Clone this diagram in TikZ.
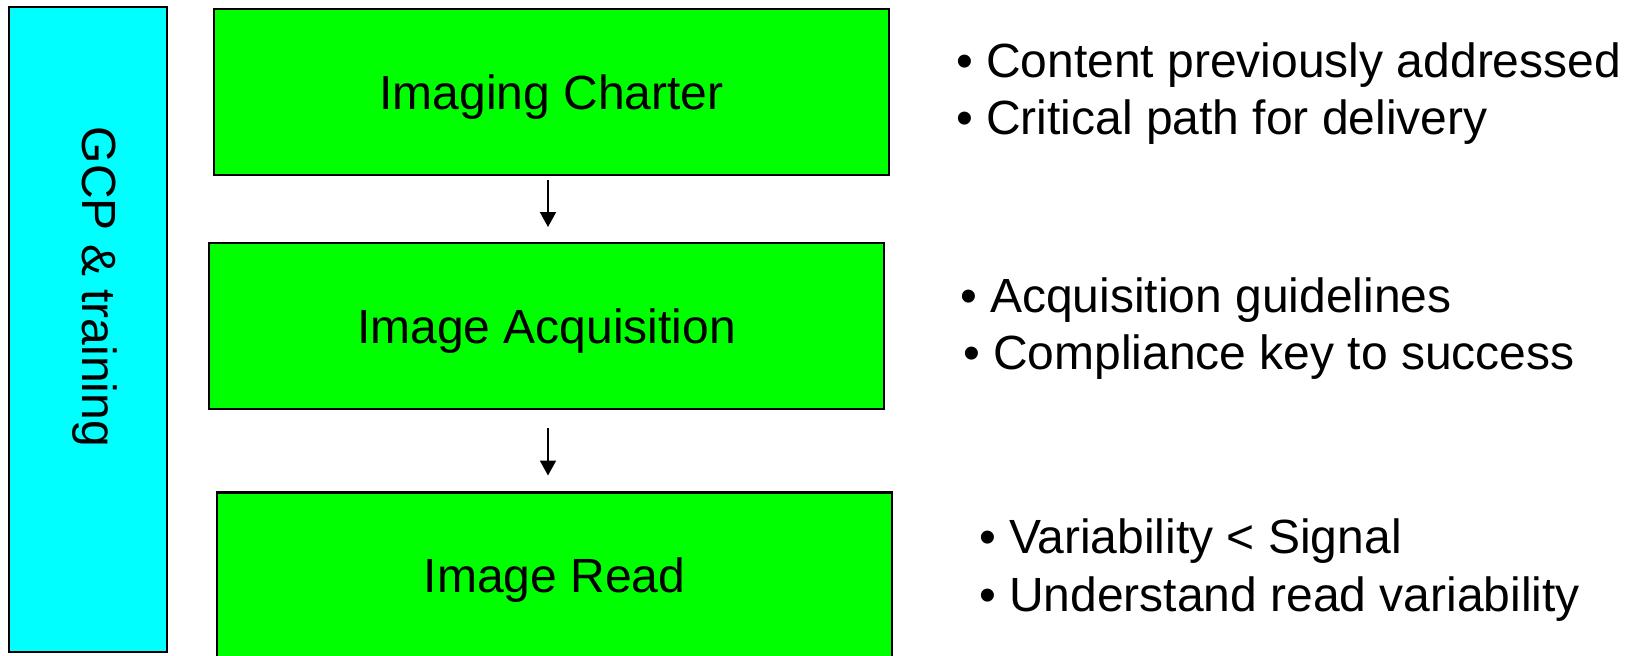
\documentclass[tikz,border=0pt]{standalone}
\usepackage{fontspec}
\setmainfont{Liberation Sans}
\usetikzlibrary{arrows.meta}
\definecolor{gcpcyan}{HTML}{00FFFF}
\definecolor{stepgreen}{HTML}{00FF00}
\begin{document}
\begin{tikzpicture}[x=1pt,y=-1pt,
  every node/.style={font=\fontsize{48pt}{58pt}\selectfont, inner sep=0pt, outer sep=0pt},
  framebox/.style={draw=black, line width=2.5pt},
  stagebox/.style={framebox, fill=stepgreen, minimum width=675pt, minimum height=166pt,
                   text height=34.4pt, text depth=0pt},
  bullet/.style={anchor=base west},
  flow/.style={draw=black, line width=2pt, -{Triangle[width=16pt,length=15pt]}}]
  \useasboundingbox (0,0) rectangle (1631,656);
  \clip (0,0) rectangle (1631,656);

  % side bar
  \node[framebox, fill=gcpcyan, minimum width=158pt, minimum height=645pt] (gcp) at (88,329.5) {};
  \node[rotate=-90, anchor=base] (gcptext) at (82,287) {GCP \& training};

  % process stages
  \node[stagebox] (charter) at (551.5,92) {Imaging Charter};
  \node[stagebox] (acq) at (546.5,326) {Image Acquisition};
  \node[stagebox] (read) at (554.5,575.5) {Image Read};

  % arrows between stages
  \coordinate (ax) at (548,0);
  \draw[flow, shorten <=5pt, shorten >=16pt] (charter.south -| ax) -- (acq.north -| ax);
  \draw[flow, shorten <=19pt, shorten >=17pt] (acq.south -| ax) -- (read.north -| ax);

  % notes
  \node[bullet] (n1a) at (956,77) {• Content previously addressed};
  \node[bullet] (n1b) at (956,134) {• Critical path for delivery};
  \node[bullet] (n2a) at (960,312) {• Acquisition guidelines};
  \node[bullet] (n2b) at (963,369) {• Compliance key to success};
  \node[bullet] (n3a) at (979,553) {• Variability < Signal};
  \node[bullet] (n3b) at (979,611) {• Understand read variability};
\end{tikzpicture}
\end{document}
